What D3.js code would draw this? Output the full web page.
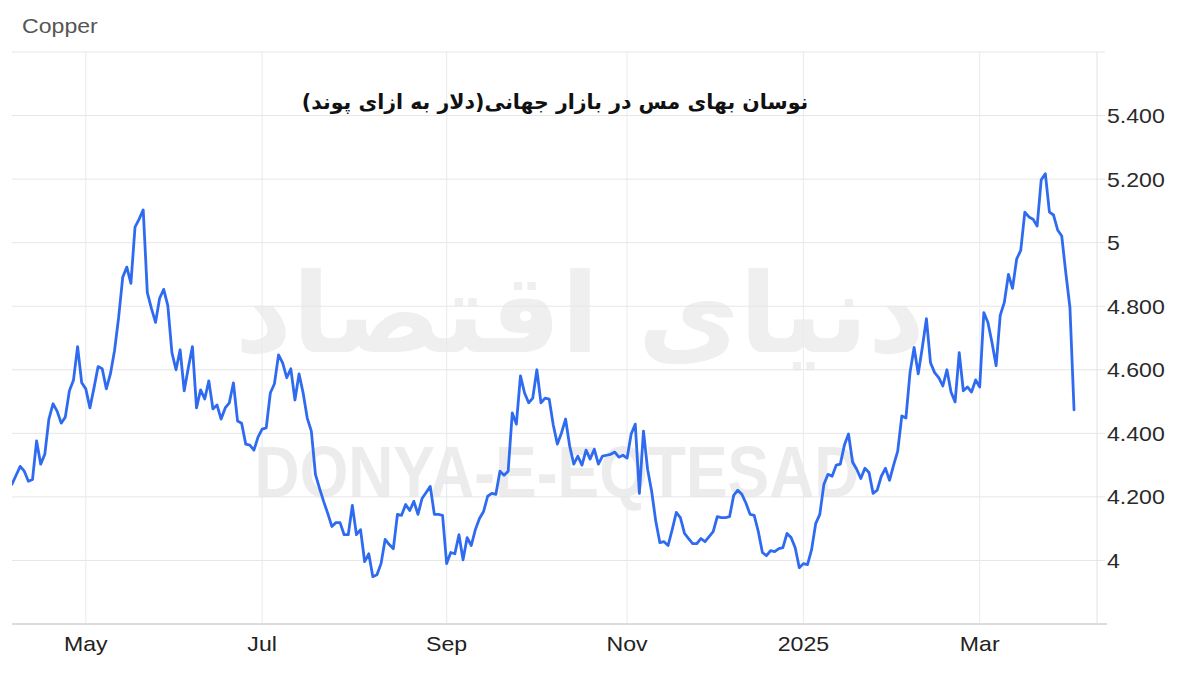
<!DOCTYPE html>
<html>
<head>
<meta charset="utf-8">
<script src="https://cdn.jsdelivr.net/npm/d3@7"></script>
<style>
  html, body { margin: 0; padding: 0; background: #fff; }
  svg { display: block; }
</style>
</head>
<body>
<svg id="chart" width="1200" height="679"></svg>
<script>
// ---- DATA ----
const chartName = "Copper";
const titleText = "نوسان بهای مس در بازار جهانی(دلار به ازای پوند)";
const watermarkFa = "دنیای اقتصاد";
const watermarkEn = "DONYA-E-EQTESAD";
const startDate = "2024-04-05"; // first trading day shown; one value per weekday
const values = [
  4.240, 4.268, 4.296, 4.281, 4.249, 4.255, 4.376, 4.303, 4.334, 4.445,
  4.493, 4.470, 4.432, 4.451, 4.534, 4.568, 4.673, 4.559, 4.540, 4.480,
  4.543, 4.610, 4.603, 4.540, 4.587, 4.660, 4.764, 4.891, 4.923, 4.872,
  5.049, 5.074, 5.103, 4.843, 4.793, 4.749, 4.825, 4.853, 4.802, 4.654,
  4.600, 4.663, 4.534, 4.606, 4.673, 4.480, 4.537, 4.508, 4.565, 4.477,
  4.489, 4.445, 4.480, 4.496, 4.559, 4.439, 4.432, 4.366, 4.363, 4.347,
  4.388, 4.413, 4.417, 4.527, 4.556, 4.647, 4.622, 4.575, 4.603, 4.505,
  4.587, 4.527, 4.448, 4.407, 4.271, 4.227, 4.186, 4.148, 4.107, 4.119,
  4.119, 4.081, 4.081, 4.173, 4.081, 4.097, 3.996, 4.021, 3.949, 3.955,
  3.990, 4.066, 4.050, 4.037, 4.145, 4.142, 4.176, 4.157, 4.186, 4.145,
  4.195, 4.214, 4.233, 4.145, 4.145, 4.142, 3.990, 4.025, 4.021, 4.081,
  4.002, 4.072, 4.047, 4.097, 4.132, 4.154, 4.202, 4.211, 4.208, 4.281,
  4.268, 4.281, 4.464, 4.429, 4.581, 4.527, 4.496, 4.511, 4.600, 4.496,
  4.511, 4.508, 4.426, 4.366, 4.401, 4.445, 4.360, 4.303, 4.328, 4.300,
  4.347, 4.319, 4.350, 4.303, 4.328, 4.331, 4.334, 4.341, 4.325, 4.331,
  4.322, 4.398, 4.429, 4.211, 4.407, 4.287, 4.217, 4.123, 4.056, 4.059,
  4.047, 4.097, 4.151, 4.135, 4.085, 4.069, 4.053, 4.053, 4.069, 4.059,
  4.075, 4.091, 4.138, 4.135, 4.135, 4.138, 4.205, 4.221, 4.208, 4.180,
  4.145, 4.142, 4.091, 4.025, 4.015, 4.031, 4.028, 4.037, 4.040, 4.085,
  4.072, 4.040, 3.977, 3.990, 3.987, 4.034, 4.116, 4.145, 4.240, 4.271,
  4.265, 4.300, 4.303, 4.363, 4.398, 4.309, 4.287, 4.258, 4.290, 4.277,
  4.211, 4.221, 4.265, 4.290, 4.252, 4.300, 4.344, 4.455, 4.448, 4.591,
  4.670, 4.587, 4.670, 4.761, 4.622, 4.591, 4.575, 4.549, 4.600, 4.530,
  4.499, 4.654, 4.534, 4.546, 4.530, 4.568, 4.546, 4.780, 4.749, 4.685,
  4.613, 4.771, 4.812, 4.900, 4.856, 4.948, 4.976, 5.096, 5.081, 5.074,
  5.052, 5.198, 5.217, 5.096, 5.087, 5.040, 5.021, 4.904, 4.796, 4.474
];
const yTicks = [4.0, 4.2, 4.4, 4.6, 4.8, 5.0, 5.2, 5.4];
const yTickLabels = ["4", "4.200", "4.400", "4.600", "4.800", "5", "5.200", "5.400"];
const xTickMonths = ["2024-05", "2024-07", "2024-09", "2024-11", "2025-01", "2025-03"];
const xTickLabels = ["May", "Jul", "Sep", "Nov", "2025", "Mar"];
const yDomain = [3.8, 5.6];

// ---- build dated series (weekdays) ----
const dates = [];
{
  const d = d3.timeParse("%Y-%m-%d")(startDate);
  while (dates.length < values.length) {
    const wd = d.getDay();
    if (wd !== 0 && wd !== 6) dates.push(new Date(d));
    d.setDate(d.getDate() + 1);
  }
}
const series = values.map((v, i) => ({ i, date: dates[i], v }));
const monthKey = d3.timeFormat("%Y-%m");

// ---- LAYOUT ----
const svg = d3.select("#chart");
const L = 12, R = 1097, T = 52, B = 624;
const LABEL_FONT = "Liberation Sans, Arial, sans-serif";

const x = d3.scaleLinear().domain([0, values.length + 4.6]).range([L, R]);
const y = d3.scaleLinear().domain(yDomain).range([B, T]);

// widen text glyphs horizontally (reference text is slightly stretched)
function widen(sel, k) {
  sel.each(function () {
    const w = this.getComputedTextLength();
    if (w > 0) {
      this.setAttribute("textLength", (w * k).toFixed(2));
      this.setAttribute("lengthAdjust", "spacingAndGlyphs");
    }
  });
}

// watermark (Persian logo text)
const wmFa = svg.append("text")
  .attr("x", 580).attr("y", 352)
  .attr("text-anchor", "middle")
  .style("font-family", "DejaVu Sans")
  .style("font-weight", "bold")
  .style("font-size", "150px")
  .attr("fill", "#efefef")
  .text(watermarkFa);
{
  const w = wmFa.node().getComputedTextLength();
  if (w > 0) wmFa.style("font-size", (150 * 690 / w) + "px");
}

// watermark (latin)
const wmEn = svg.append("text")
  .attr("x", 557).attr("y", 497)
  .attr("text-anchor", "middle")
  .style("font-family", LABEL_FONT)
  .style("font-weight", "bold")
  .style("font-size", "72px")
  .attr("fill", "#ececec")
  .text(watermarkEn);
{
  const w = wmEn.node().getComputedTextLength();
  if (w > 0) wmEn.attr("transform", `translate(557,0) scale(${605 / w},1) translate(-557,0)`);
}

// horizontal grid
svg.append("line").attr("x1", L).attr("x2", R + 8).attr("y1", T).attr("y2", T)
  .attr("stroke", "#e6e6e6").attr("stroke-width", 1);
svg.append("g").selectAll("line").data(yTicks).join("line")
  .attr("x1", L).attr("x2", R + 8)
  .attr("y1", d => y(d)).attr("y2", d => y(d))
  .attr("stroke", "#e6e6e6").attr("stroke-width", 1);

// vertical grid at month ticks
const xTickIdx = xTickMonths.map(m => series.find(s => monthKey(s.date) === m).i);
svg.append("g").selectAll("line").data(xTickIdx).join("line")
  .attr("x1", d => x(d)).attr("x2", d => x(d))
  .attr("y1", T).attr("y2", B)
  .attr("stroke", "#e4ecf0").attr("stroke-width", 1);

// right axis line
svg.append("line").attr("x1", R).attr("x2", R).attr("y1", T).attr("y2", B + 1)
  .attr("stroke", "#e2e2e2").attr("stroke-width", 1);

// bottom axis line
svg.append("line").attr("x1", L).attr("x2", R + 10).attr("y1", B).attr("y2", B)
  .attr("stroke", "#dcdcdc").attr("stroke-width", 2);

// y labels
const yLab = svg.append("g").selectAll("text").data(yTicks).join("text")
  .attr("x", R + 10).attr("y", d => y(d)).attr("dy", "0.36em")
  .style("font-family", LABEL_FONT)
  .style("font-size", "21px").attr("fill", "#2a2a2a")
  .text((d, i) => yTickLabels[i]);
widen(yLab, 1.1);

// x labels
const xLab = svg.append("g").selectAll("text").data(xTickIdx).join("text")
  .attr("x", d => x(d)).attr("y", 651)
  .attr("text-anchor", "middle")
  .style("font-family", LABEL_FONT)
  .style("font-size", "21px").attr("fill", "#222")
  .text((d, i) => xTickLabels[i]);
widen(xLab, 1.1);

// chart name
const nameLab = svg.append("text").attr("x", 22).attr("y", 33)
  .style("font-family", LABEL_FONT)
  .style("font-size", "21px").attr("fill", "#555")
  .text(chartName);
widen(nameLab, 1.1);

// title
svg.append("text").attr("x", 555).attr("y", 109)
  .attr("text-anchor", "middle")
  .style("font-family", "DejaVu Sans")
  .style("font-weight", "bold")
  .style("font-size", "20.5px").attr("fill", "#111")
  .text(titleText);

// line
const clipId = "plotclip";
svg.append("clipPath").attr("id", clipId).append("rect")
  .attr("x", L).attr("y", T - 5).attr("width", R - L).attr("height", B - T + 5);
svg.append("path")
  .datum(series)
  .attr("clip-path", `url(#${clipId})`)
  .attr("fill", "none")
  .attr("stroke", "#2f6bf0")
  .attr("stroke-width", 2.8)
  .attr("stroke-linejoin", "round")
  .attr("stroke-linecap", "round")
  .attr("d", d3.line().x(d => x(d.i)).y(d => y(d.v)));
</script>
</body>
</html>
